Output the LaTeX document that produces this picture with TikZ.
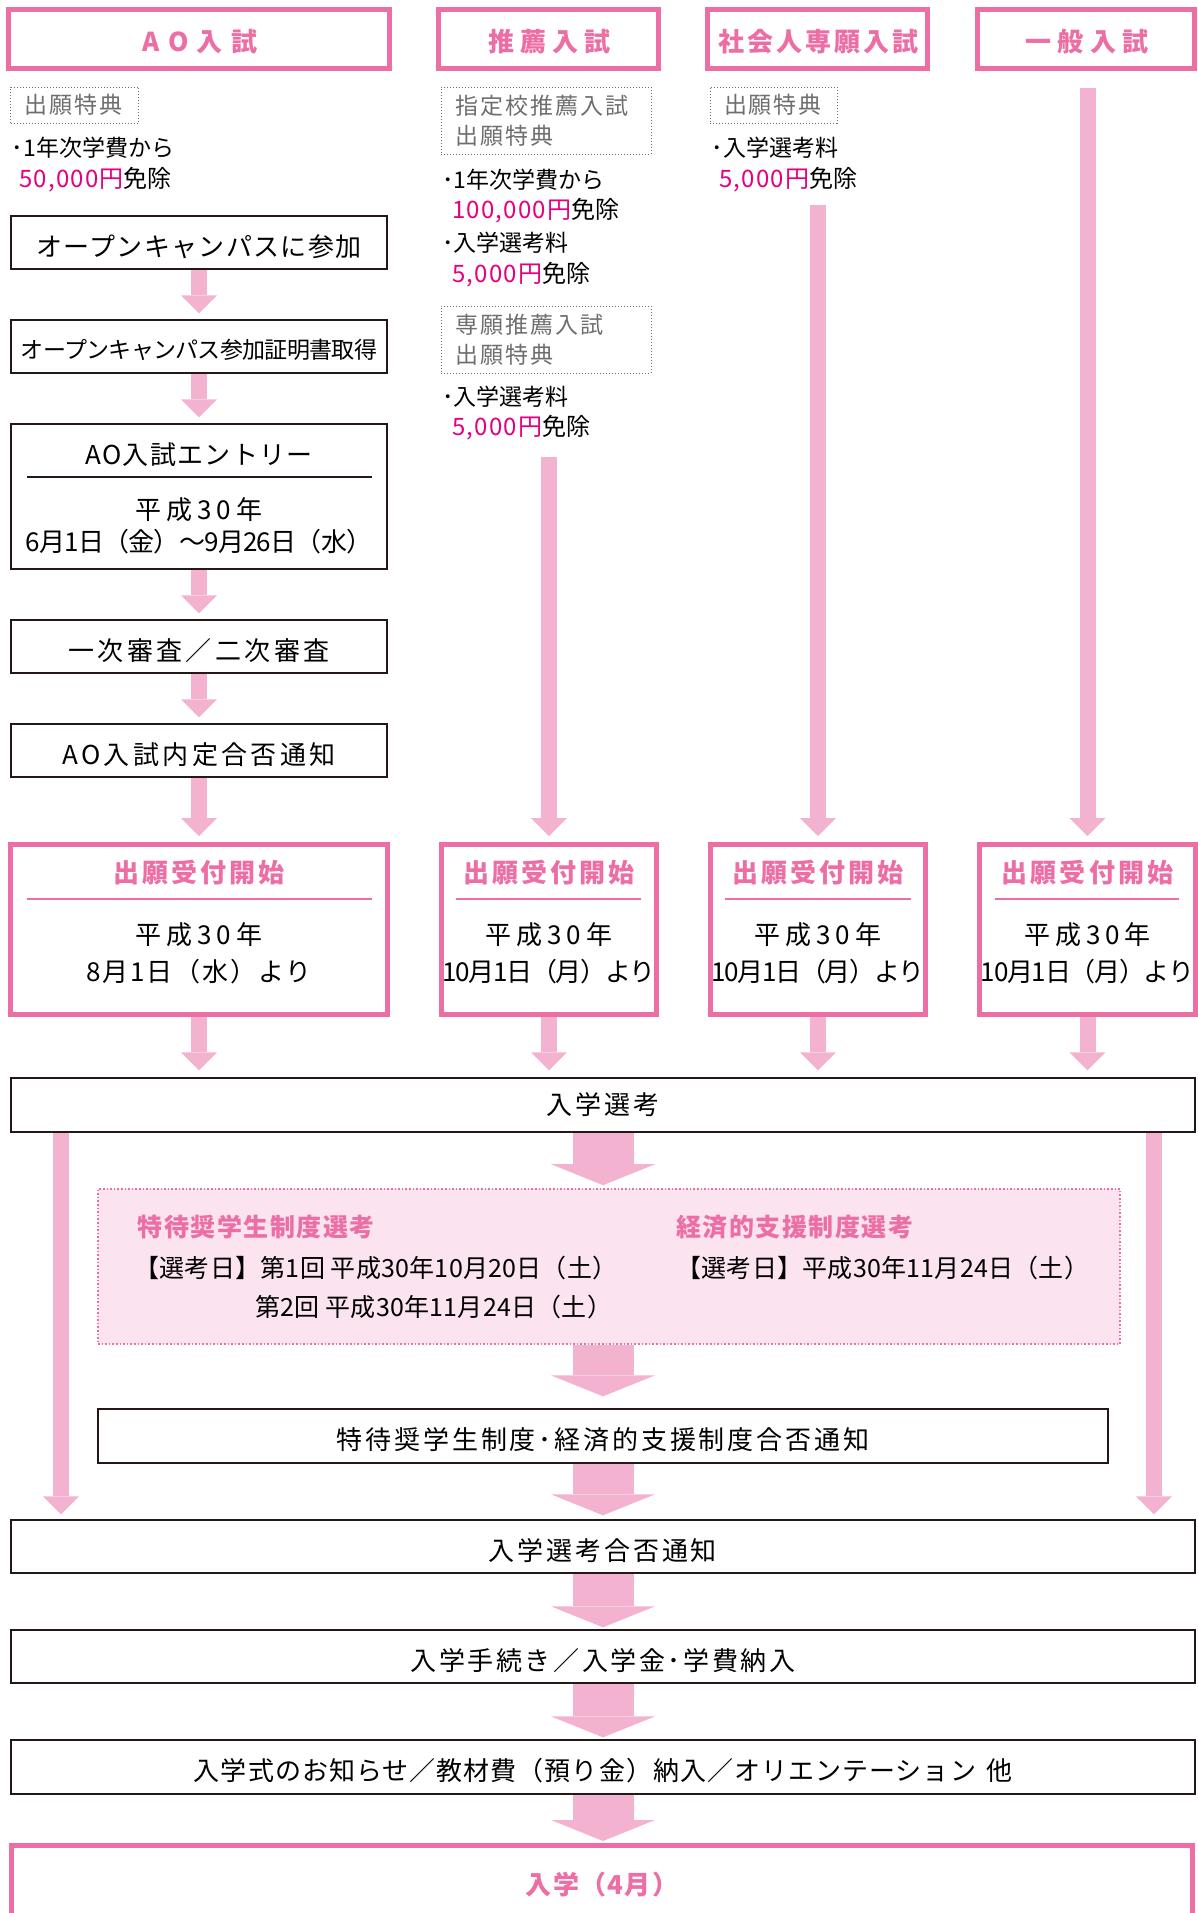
\documentclass[tikz,border=0pt]{standalone}
\usepackage{fontspec}
\setmainfont{Noto Sans CJK JP}
\usetikzlibrary{arrows.meta}

\definecolor{hdpink}{RGB}{236,110,165}
\definecolor{arrpink}{RGB}{243,179,208}
\definecolor{mag}{RGB}{228,0,127}
\definecolor{fillpink}{RGB}{251,228,239}
\definecolor{txtgray}{RGB}{110,110,110}
\definecolor{boxline}{RGB}{35,24,21}

\newcommand{\trk}[1]{\addfontfeature{LetterSpace=#1}}

\tikzset{
  headbox/.style={draw=hdpink, line width=2.5pt, fill=white, inner sep=0pt},
  headtxt/.style={text=hdpink, inner sep=0pt, font=\fontsize{13}{15}\selectfont\bfseries},
  flowbox/.style={draw=boxline, line width=0.65pt, fill=white, inner sep=0pt, minimum height=26.5pt, text height=13.6pt, text depth=0pt, font=\fontsize{13}{15}\selectfont},
  labelbox/.style={draw=txtgray, densely dotted, line width=0.5pt, inner xsep=7pt, inner ysep=0pt, align=left, text=txtgray, font=\fontsize{11.5}{15}\selectfont},
  bultxt/.style={anchor=west, inner sep=0pt, font=\fontsize{11.5}{14}\selectfont},
  amttxt/.style={anchor=west, inner sep=0pt, font=\fontsize{12}{14}\selectfont},
  datetxt/.style={inner sep=0pt, font=\fontsize{13}{15}\selectfont},
  seltxt/.style={anchor=west, inner sep=0pt, font=\fontsize{12.5}{14}\selectfont},
  smallarr/.style={draw=arrpink, line width=8pt, -{Triangle[width=18pt,length=9pt,line width=0pt]}, shorten >=3pt},
  bigarr/.style={draw=arrpink, line width=30.5pt, -{Triangle[width=52pt,length=10.5pt,line width=0pt]}}
}

\begin{document}
\begin{tikzpicture}[x=0.5pt,y=-0.5pt]
  \useasboundingbox (0,0) rectangle (1198,1913);

  % headers
  \node[headbox, minimum width=190.5pt, minimum height=29.5pt] (hAO) at (199,39) {};
  \node[headbox, minimum width=110pt, minimum height=29.5pt] (hSui) at (548.5,39) {};
  \node[headbox, minimum width=110pt, minimum height=29.5pt] (hSha) at (817.5,39) {};
  \node[headbox, minimum width=108.5pt, minimum height=29.5pt] (hIp) at (1086,39) {};
  \node[headtxt] (hAOt) at (200,42) {\trk{32}AO入試};
  \node[headtxt] (hSuit) at (549.5,42) {\trk{24}推薦入試};
  \node[headtxt] (hShat) at (818.5,42) {\trk{12}社会人専願入試};
  \node[headtxt] (hIpt) at (1087,42) {\trk{24}一般入試};

  % benefits
  \node[labelbox, text width=50pt, minimum height=18pt] (lAO) at (74.6,105) {\trk{8}出願特典};
  \node[labelbox, text width=91pt, minimum height=33.5pt] (lSui1) at (546,120.5) {\trk{9}指定校推薦入試\\出願特典};
  \node[labelbox, text width=91pt, minimum height=33.5pt] (lSui2) at (546,339.5) {\trk{9}専願推薦入試\\出願特典};
  \node[labelbox, text width=49.5pt, minimum height=18pt] (lSha) at (773.5,105) {\trk{8}出願特典};

  \node[bultxt] (bAO1) at (11.5,148) {･1年次学費から};
  \node[amttxt] (bAO2) at (19,180) {\textcolor{mag}{\trk{5}50,000円}免除};
  \node[bultxt] (bSui1) at (442,180) {･1年次学費から};
  \node[amttxt] (bSui2) at (452,211) {\textcolor{mag}{\trk{5}100,000円}免除};
  \node[bultxt] (bSui3) at (442,243) {･入学選考料};
  \node[amttxt] (bSui4) at (452,275) {\textcolor{mag}{\trk{5}5,000円}免除};
  \node[bultxt] (bSui5) at (442,397) {･入学選考料};
  \node[amttxt] (bSui6) at (452,428) {\textcolor{mag}{\trk{5}5,000円}免除};
  \node[bultxt] (bSha1) at (711.5,148) {･入学選考料};
  \node[amttxt] (bSha2) at (719,180) {\textcolor{mag}{\trk{5}5,000円}免除};

  % AO steps
  \node[flowbox, minimum width=188pt] (oc1) at (199,242.5) {\trk{5}オープンキャンパスに参加};
  \node[flowbox, minimum width=188pt, font=\fontsize{11.5}{14}\selectfont, text height=12pt] (oc2) at (199,346.5) {\trk{-3}オープンキャンパス参加証明書取得};
  \node[flowbox, minimum width=188pt, minimum height=72.5pt] (entry) at (199,496.5) {};
  \node[datetxt] (entryT) at (199,455) {\trk{5}AO入試エントリー};
  \draw[boxline, line width=0.65pt] (27,477) -- (372,477);
  \node[datetxt] (entryY) at (199,510) {\trk{19}平成30年};
  \node[datetxt] (entryD) at (199,542) {\trk{-3}6月1日（金）～9月26日（水）};
  \node[flowbox, minimum width=188pt] (shinsa) at (199,646.5) {\trk{13}一次審査／二次審査};
  \node[flowbox, minimum width=188pt] (naitei) at (199,750.5) {\trk{13}AO入試内定合否通知};

  % start of applications
  \node[headbox, minimum width=188.25pt, minimum height=85pt] (uAO) at (199,929.5) {};
  \node[headbox, minimum width=107.5pt, minimum height=85pt] (uSui) at (549,929.5) {};
  \node[headbox, minimum width=107.5pt, minimum height=85pt] (uSha) at (818,929.5) {};
  \node[headbox, minimum width=108pt, minimum height=85pt] (uIp) at (1087.5,929.5) {};

  \node[headtxt] (uAOt) at (199,873) {\trk{12}出願受付開始};
  \node[headtxt] (uSuit) at (549,873) {\trk{12}出願受付開始};
  \node[headtxt] (uShat) at (818,873) {\trk{12}出願受付開始};
  \node[headtxt] (uIpt) at (1087.5,873) {\trk{12}出願受付開始};
  \draw[hdpink, line width=0.65pt] (27,899) -- (372,899);
  \draw[hdpink, line width=0.65pt] (456,899) -- (641,899);
  \draw[hdpink, line width=0.65pt] (725,899) -- (911,899);
  \draw[hdpink, line width=0.65pt] (995,899) -- (1179,899);
  \node[datetxt] (uAOy) at (199,935) {\trk{19}平成30年};
  \node[datetxt] (uSuiy) at (549,935) {\trk{19}平成30年};
  \node[datetxt] (uShay) at (818,935) {\trk{19}平成30年};
  \node[datetxt] (uIpy) at (1087.5,935) {\trk{19}平成30年};
  \node[datetxt] (uAOd) at (199,972) {\trk{7}8月1日（水）より};
  \node[datetxt] (uSuid) at (549,972) {\trk{-5}10月1日（月）より};
  \node[datetxt] (uShad) at (818,972) {\trk{-5}10月1日（月）より};
  \node[datetxt] (uIpd) at (1087.5,972) {\trk{-5}10月1日（月）より};

  % selection
  \node[flowbox, minimum width=592pt, minimum height=27pt, text height=11.4pt, text depth=1.6pt] (senko) at (603,1105) {\trk{11}入学選考};
  \node[draw=hdpink, densely dotted, line width=0.8pt, fill=fillpink, minimum width=511pt, minimum height=77.5pt] (tarea) at (609,1266.5) {};
  \node[seltxt, text=hdpink, font=\fontsize{12.5}{14}\selectfont\bfseries] (tokT) at (137.5,1227) {\trk{6}特待奨学生制度選考};
  \node[seltxt, text=hdpink, font=\fontsize{12.5}{14}\selectfont\bfseries] (keiT) at (676,1227) {\trk{6}経済的支援制度選考};
  \node[seltxt] (tok1) at (134,1268) {\trk{1}【選考日】第1回 平成30年10月20日（土）};
  \node[seltxt] (tok2) at (255,1307) {\trk{1}第2回 平成30年11月24日（土）};
  \node[seltxt] (kei1) at (676,1268) {\trk{1}【選考日】平成30年11月24日（土）};
  \node[flowbox, minimum width=505pt, minimum height=27pt] (notify) at (603,1436) {\trk{11}特待奨学生制度･経済的支援制度合否通知};
  \node[flowbox, minimum width=592pt] (gohi) at (603,1546.5) {\trk{11}入学選考合否通知};
  \node[flowbox, minimum width=592pt] (tetsu) at (603,1656.5) {\trk{10}入学手続き／入学金･学費納入};
  \node[flowbox, minimum width=592pt, minimum height=27pt] (shiki) at (603,1767) {\trk{4}入学式のお知らせ／教材費（預り金）納入／オリエンテーション\hspace{5pt}他};
  \node[headbox, minimum width=590.5pt, minimum height=45pt] (final) at (602,1890.5) {};
  \node[headtxt] (finalT) at (602,1885) {\trk{5}入学（4月）};

  % arrows
  \draw[smallarr] (oc1) -- (oc2);
  \draw[smallarr] (oc2) -- (entry);
  \draw[smallarr] (entry) -- (shinsa);
  \draw[smallarr] (shinsa) -- (naitei);
  \draw[smallarr] (naitei) -- (uAO);
  \coordinate (sSui) at (549,457);
  \coordinate (sSha) at (818,205);
  \coordinate (sIp) at (1087.5,88);
  \draw[smallarr] (sSui) -- (uSui);
  \draw[smallarr] (sSha) -- (uSha);
  \draw[smallarr] (sIp) -- (uIp);
  \draw[smallarr, shorten >=3.5pt] (uAO) -- (uAO |- senko.north);
  \draw[smallarr, shorten >=3.5pt] (uSui) -- (uSui |- senko.north);
  \draw[smallarr, shorten >=3.5pt] (uSha) -- (uSha |- senko.north);
  \draw[smallarr, shorten >=3.5pt] (uIp) -- (uIp |- senko.north);

  \coordinate (lx) at (61,0);
  \coordinate (rx) at (1154,0);
  \draw[smallarr, shorten >=2.5pt] (senko.south -| lx) -- (gohi.north -| lx);
  \draw[smallarr, shorten >=2.5pt] (senko.south -| rx) -- (gohi.north -| rx);

  \draw[bigarr, shorten >=1.5pt] (senko) -- (senko |- tarea.north);
  \draw[bigarr, shorten >=6pt] (tarea.south -| senko) -- (notify);
  \draw[bigarr, shorten >=2pt] (notify) -- (gohi);
  \draw[bigarr, shorten >=1pt] (gohi) -- (tetsu);
  \draw[bigarr, shorten >=1pt] (tetsu) -- (shiki);
  \draw[bigarr, shorten >=1pt] (shiki) -- (shiki |- final.north);
\end{tikzpicture}
\end{document}
